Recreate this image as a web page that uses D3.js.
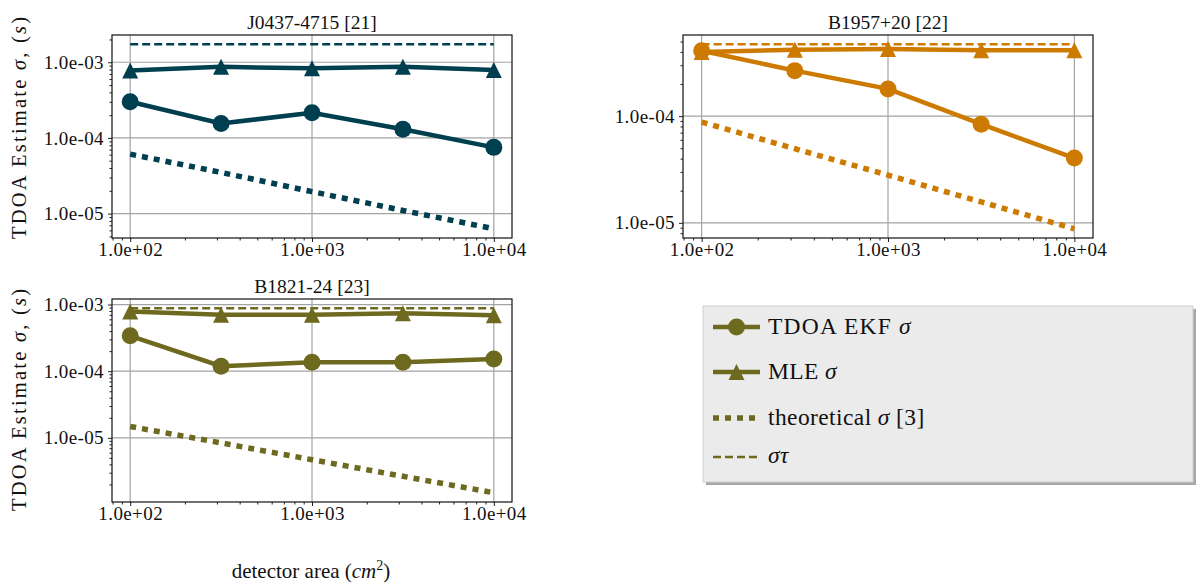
<!DOCTYPE html>
<html lang="en">
<head>
<meta charset="UTF-8"/>
<title>TDOA estimate vs detector area</title>
<script src="https://d3js.org/d3.v7.min.js"></script>
<style>
	body { margin: 0; background: #ffffff; }
	svg text { font-family: "Liberation Serif", serif; fill: #111; }
</style>
</head>
<body>
<script>

	var w = 1203;
	var h = 585;

	// detector areas (cm^2)
	var areas = [100, 316.2, 1000, 3162, 10000];

	// J0437-4715
	var ekfJ0437 = [3.0e-4, 1.55e-4, 2.15e-4, 1.3e-4, 7.5e-5];
	var mleJ0437 = [7.8e-4, 8.7e-4, 8.3e-4, 8.7e-4, 7.9e-4];
	var theoJ0437 = [6.1e-5, 3.5e-5, 1.95e-5, 1.1e-5, 6.3e-6];
	var tauJ0437 = [1.73e-3, 1.73e-3, 1.73e-3, 1.73e-3, 1.73e-3];

	// B1957+20
	var ekfB1957 = [4.1e-4, 2.67e-4, 1.8e-4, 8.4e-5, 4.05e-5];
	var mleB1957 = [4.0e-4, 4.2e-4, 4.25e-4, 4.15e-4, 4.15e-4];
	var theoB1957 = [8.8e-5, 4.95e-5, 2.8e-5, 1.57e-5, 8.8e-6];
	var tauB1957 = [4.72e-4, 4.72e-4, 4.72e-4, 4.72e-4, 4.72e-4];

	// B1821-24
	var ekfB1821 = [3.4e-4, 1.19e-4, 1.36e-4, 1.36e-4, 1.52e-4];
	var mleB1821 = [7.85e-4, 7.0e-4, 7.0e-4, 7.4e-4, 6.9e-4];
	var theoB1821 = [1.48e-5, 8.4e-6, 4.7e-6, 2.65e-6, 1.5e-6];
	var tauB1821 = [8.8e-4, 8.8e-4, 8.8e-4, 8.8e-4, 8.8e-4];

	var xTicks = [1e2, 1e3, 1e4];
	var yTicks = [1e-6, 1e-5, 1e-4, 1e-3, 1e-2];

	var panels = [
		{title: "J0437-4715 [21]", color: "#003f4f", ekf: ekfJ0437, mle: mleJ0437, theo: theoJ0437, tau: tauJ0437,
		 left: 112, right: 512, top: 35, bottom: 238, ylabel: true, ylabelY: 128},
		{title: "B1957+20 [22]", color: "#cd7a00", ekf: ekfB1957, mle: mleB1957, theo: theoB1957, tau: tauB1957,
		 left: 683, right: 1093, top: 35, bottom: 238, ylabel: false},
		{title: "B1821-24 [23]", color: "#6d6a1f", ekf: ekfB1821, mle: mleB1821, theo: theoB1821, tau: tauB1821,
		 left: 112, right: 512, top: 299, bottom: 502, ylabel: true, ylabelY: 400}
	];

	function fmtExp(v) {
		// 1.0e+02 style labels
		var s = v.toExponential(1);
		var parts = s.split("e");
		var sign = parts[1].charAt(0);
		var num = parts[1].substring(1);
		if (num.length < 2) num = "0" + num;
		return parts[0] + "e" + sign + num;
	}

	function triPath(s) {
		return "M0," + (-s) + "L" + s + "," + s + "L" + (-s) + "," + s + "Z";
	}

	var svg = d3.select("body")
		.append("svg")
		.attr("width", w)
		.attr("height", h);

	panels.forEach(function(p) {
		var xScale = d3.scaleLog()
			.domain([Math.pow(10, 1.9), Math.pow(10, 4.1)])
			.range([p.left, p.right]);

		// matplotlib style autoscale: 5% margin in log space
		var all = p.ekf.concat(p.mle, p.theo, p.tau);
		var lo = Math.log10(d3.min(all));
		var hi = Math.log10(d3.max(all));
		var pad = (hi - lo) * 0.05;
		var yScale = d3.scaleLog()
			.domain([Math.pow(10, lo - pad), Math.pow(10, hi + pad)])
			.range([p.bottom, p.top]);

		var yMajor = yTicks.filter(function(t) {
			return t >= yScale.domain()[0] && t <= yScale.domain()[1];
		});

		var g = svg.append("g");

		// grid
		g.selectAll(".xgrid")
			.data(xTicks)
			.enter()
			.append("line")
			.attr("x1", function(d){ return xScale(d); })
			.attr("x2", function(d){ return xScale(d); })
			.attr("y1", p.top)
			.attr("y2", p.bottom)
			.attr("stroke", "#a3a3a3")
			.attr("stroke-width", 1.2);
		g.selectAll(".ygrid")
			.data(yMajor)
			.enter()
			.append("line")
			.attr("x1", p.left)
			.attr("x2", p.right)
			.attr("y1", function(d){ return yScale(d); })
			.attr("y2", function(d){ return yScale(d); })
			.attr("stroke", "#a3a3a3")
			.attr("stroke-width", 1.2);

		// axes
		var xAxis = d3.axisBottom(xScale)
			.tickValues(xScale.ticks())
			.tickSizeOuter(0)
			.tickFormat(function(d){ return xTicks.indexOf(d) >= 0 ? fmtExp(d) : ""; });
		var gx = g.append("g")
			.attr("transform", "translate(0," + p.bottom + ")")
			.call(xAxis);

		var yAxis = d3.axisLeft(yScale)
			.tickValues(yScale.ticks())
			.tickSizeOuter(0)
			.tickFormat(function(d){ return yMajor.indexOf(d) >= 0 ? fmtExp(d) : ""; });
		var gy = g.append("g")
			.attr("transform", "translate(" + p.left + ",0)")
			.call(yAxis);

		[gx, gy].forEach(function(a) {
			a.select(".domain").remove();
			a.selectAll(".tick line").attr("stroke", "#222").attr("stroke-width", 1);
			a.selectAll(".tick text")
				.style("font-family", "'Liberation Serif', serif")
				.style("font-size", "19px")
				.style("letter-spacing", "0.4px")
				.attr("fill", "#111");
		});
		gx.selectAll(".tick line").attr("y2", function(d){ return xTicks.indexOf(d) >= 0 ? 4 : 2.5; });
		gx.selectAll(".tick text").attr("y", 5);
		gy.selectAll(".tick line").attr("x2", function(d){ return yMajor.indexOf(d) >= 0 ? -4 : -2.5; });
		gy.selectAll(".tick text").attr("x", -8);

		g.append("rect")
			.attr("x", p.left)
			.attr("y", p.top)
			.attr("width", p.right - p.left)
			.attr("height", p.bottom - p.top)
			.attr("fill", "none")
			.attr("stroke", "#111")
			.attr("stroke-width", 1.2);

		var line = d3.line()
			.x(function(d, i){ return xScale(areas[i]); })
			.y(function(d){ return yScale(d); });

		// sigma tau (dashed)
		g.append("path")
			.attr("d", line(p.tau))
			.attr("fill", "none")
			.attr("stroke", p.color)
			.attr("stroke-width", 2.4)
			.attr("stroke-dasharray", "8,4");

		// theoretical (dotted)
		g.append("path")
			.attr("d", line(p.theo))
			.attr("fill", "none")
			.attr("stroke", p.color)
			.attr("stroke-width", 5.5)
			.attr("stroke-dasharray", "6,6");

		// MLE
		g.append("path")
			.attr("d", line(p.mle))
			.attr("fill", "none")
			.attr("stroke", p.color)
			.attr("stroke-width", 4.5);
		g.selectAll(".tri")
			.data(p.mle)
			.enter()
			.append("path")
			.attr("d", triPath(8))
			.attr("transform", function(d, i){ return "translate(" + xScale(areas[i]) + "," + yScale(d) + ")"; })
			.attr("fill", p.color);

		// EKF
		g.append("path")
			.attr("d", line(p.ekf))
			.attr("fill", "none")
			.attr("stroke", p.color)
			.attr("stroke-width", 4.5);
		g.selectAll(".dot")
			.data(p.ekf)
			.enter()
			.append("circle")
			.attr("cx", function(d, i){ return xScale(areas[i]); })
			.attr("cy", function(d){ return yScale(d); })
			.attr("r", 8.5)
			.attr("fill", p.color);

		// title
		g.append("text")
			.attr("x", (p.left + p.right) / 2)
			.attr("y", p.top - 6)
			.attr("text-anchor", "middle")
			.style("font-size", "19.5px")
			.text(p.title);

		if (p.ylabel) {
			var yl = g.append("text")
				.attr("transform", "translate(26," + p.ylabelY + ") rotate(-90)")
				.attr("text-anchor", "middle")
				.attr("textLength", 222)
				.attr("lengthAdjust", "spacing")
				.style("font-size", "20.5px");
			yl.append("tspan").text("TDOA Estimate ");
			yl.append("tspan").style("font-style", "italic").text("σ");
			yl.append("tspan").text(", (");
			yl.append("tspan").style("font-style", "italic").text("s");
			yl.append("tspan").text(")");
		}
	});

	// x-axis label
	var xl = svg.append("text")
		.attr("x", 311)
		.attr("y", 578)
		.attr("text-anchor", "middle")
		.style("font-size", "21px");
	xl.append("tspan").text("detector area (");
	xl.append("tspan").style("font-style", "italic").text("cm");
	xl.append("tspan").attr("dy", -8).style("font-size", "14px").text("2");
	xl.append("tspan").attr("dy", 8).text(")");

	// legend
	var legColor = panels[2].color;
	var lg = svg.append("g");
	lg.append("rect")
		.attr("x", 706).attr("y", 309)
		.attr("width", 490).attr("height", 176)
		.attr("fill", "#a6a6a6");
	lg.append("rect")
		.attr("x", 703).attr("y", 306)
		.attr("width", 490).attr("height", 176)
		.attr("fill", "#ebebeb")
		.attr("stroke", "#cfcfcf")
		.attr("stroke-width", 1);

	var rowY = [327, 372, 418, 457];
	var lx1 = 713, lx2 = 760;
	var lineW = [4.5, 4.5, 5.5, 2.4];
	var lineDash = ["none", "none", "6,6", "8,4"];

	lg.selectAll(".lline")
		.data(rowY)
		.enter()
		.append("line")
		.attr("x1", lx1)
		.attr("x2", lx2)
		.attr("y1", function(d){ return d; })
		.attr("y2", function(d){ return d; })
		.attr("stroke", legColor)
		.attr("stroke-width", function(d, i){ return lineW[i]; })
		.attr("stroke-dasharray", function(d, i){ return lineDash[i]; });
	lg.append("circle")
		.attr("cx", (lx1 + lx2) / 2)
		.attr("cy", rowY[0])
		.attr("r", 8.5)
		.attr("fill", legColor);
	lg.append("path")
		.attr("d", triPath(8))
		.attr("transform", "translate(" + ((lx1 + lx2) / 2) + "," + rowY[1] + ")")
		.attr("fill", legColor);

	var tx = 768;
	function legText(y) {
		return lg.append("text")
			.attr("x", tx)
			.attr("y", y)
			.style("font-size", "23.5px")
			.style("letter-spacing", "0.4px");
	}
	var t0 = legText(rowY[0] + 7)
		.attr("textLength", 143)
		.attr("lengthAdjust", "spacing");
	t0.append("tspan").text("TDOA EKF ");
	t0.append("tspan").style("font-style", "italic").text("σ");
	var t1 = legText(rowY[1] + 7);
	t1.append("tspan").text("MLE ");
	t1.append("tspan").style("font-style", "italic").text("σ");
	var t2 = legText(rowY[2] + 7);
	t2.append("tspan").text("theoretical ");
	t2.append("tspan").style("font-style", "italic").text("σ");
	t2.append("tspan").text(" [3]");
	var t3 = legText(rowY[3] + 6);
	t3.append("tspan").style("font-style", "italic").text("στ");

</script>
</body>
</html>
